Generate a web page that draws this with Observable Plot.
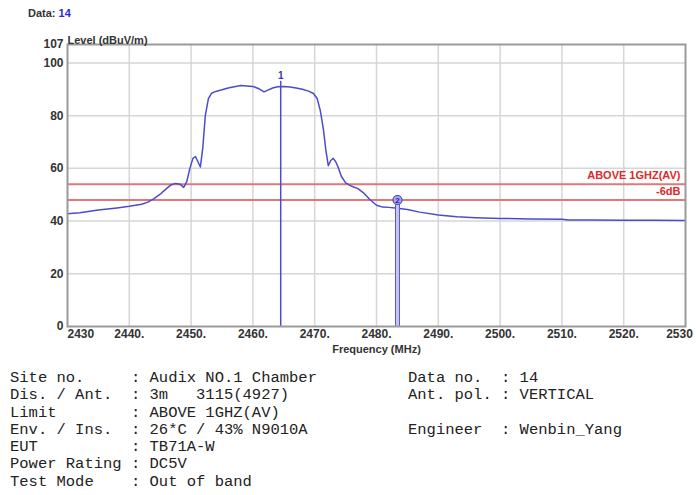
<!DOCTYPE html>
<html><head><meta charset="utf-8">
<script src="https://cdn.jsdelivr.net/npm/d3@7"></script>
<script src="https://cdn.jsdelivr.net/npm/@observablehq/plot@0.6"></script>
<style>
body{margin:0;background:#fff;width:696px;height:495px;overflow:hidden;position:relative;font-family:"Liberation Sans",Arial,sans-serif}
#hdr{position:absolute;left:28px;top:7px;font-size:11px;font-weight:bold;color:#333}
#hdr span{color:#2a2ad0}
#chart{position:absolute;left:0;top:0}
.info{position:absolute;top:370px;font-family:"Liberation Mono",monospace;font-size:15.5px;line-height:17.3px;white-space:pre;color:#222;margin:0}
#left{left:10px}
#right{left:408px}
</style></head><body>
<div id="chart"></div>
<div id="hdr">Data: <span>14</span></div>
<pre class="info" id="left"></pre>
<pre class="info" id="right"></pre>
<script>
// Trace data (frequency MHz, level dBuV/m)
const freq = [2430, 2432, 2435, 2438, 2440, 2442, 2443, 2444, 2445, 2446, 2446.8, 2447.5, 2448.2, 2448.8, 2449.3, 2449.8, 2450.3, 2450.7, 2451.1, 2451.5, 2451.9, 2452.3, 2452.8, 2453.3, 2454, 2455, 2456, 2457, 2458, 2459, 2460, 2461, 2461.8, 2462.5, 2463.2, 2464, 2465, 2466, 2467, 2468, 2469, 2469.8, 2470.4, 2470.9, 2471.4, 2471.8, 2472.2, 2472.6, 2473, 2473.4, 2473.8, 2474.3, 2475, 2476, 2477, 2478, 2479, 2480, 2481, 2482, 2483, 2484, 2485, 2487, 2490, 2493, 2496, 2500, 2505, 2510, 2511, 2515, 2520, 2525, 2530];
const level = [42.8, 43.2, 44.2, 45.0, 45.6, 46.4, 47.2, 48.5, 50.2, 52.3, 53.8, 54.3, 54.0, 52.8, 55.0, 60.0, 63.8, 64.5, 62.5, 60.5, 68.0, 80.0, 86.5, 88.5, 89.2, 89.8, 90.5, 91.0, 91.4, 91.3, 91.1, 90.2, 89.0, 89.8, 90.5, 91.0, 91.1, 90.9, 90.5, 90.0, 89.3, 88.4, 86.5, 82.0, 75.0, 67.0, 61.0, 63.0, 63.8, 62.5, 60.4, 57.0, 54.5, 53.2, 52.3, 50.5, 48.0, 46.0, 45.3, 45.2, 45.0, 44.7, 44.4, 43.4, 42.3, 41.6, 41.3, 41.0, 40.8, 40.7, 40.4, 40.4, 40.3, 40.3, 40.2];

// Limit lines
const limitLevels = [54, 48];
const limitLabels = ["ABOVE 1GHZ(AV)", "-6dB"];

// Markers
const markerNames = ["1", "2"];
const markerFreq = [2464.5, 2483.4];
const markerLevel = [93, 48];

// Axis ticks
const xTicks = [2430, 2440, 2450, 2460, 2470, 2480, 2490, 2500, 2510, 2520, 2530];
const xTickLabels = ["2430", "2440.", "2450.", "2460.", "2470.", "2480.", "2490.", "2500.", "2510.", "2520.", "2530"];
const yTicks = [0, 20, 40, 60, 80, 100, 107];
const yGrid = [20, 40, 60, 80, 100];
const xGrid = [2440, 2450, 2460, 2470, 2480, 2490, 2500, 2510, 2520];

// Info text
const infoLeftLabels = ["Site no.", "Dis. / Ant.", "Limit", "Env. / Ins.", "EUT", "Power Rating", "Test Mode"];
const infoLeftValues = ["Audix NO.1 Chamber", "3m   3115(4927)", "ABOVE 1GHZ(AV)", "26*C / 43% N9010A", "TB71A-W", "DC5V", "Out of band"];
const infoRightLabels = ["Data no.", "Ant. pol.", "", "Engineer"];
const infoRightValues = ["14", "VERTICAL", "", "Wenbin_Yang"];

const trace = freq.map((f, i) => ({f, v: level[i]}));
const limits = limitLevels.map((v, i) => ({v, label: limitLabels[i]}));
const markers = markerNames.map((n, i) => ({n, f: markerFreq[i], v: markerLevel[i]}));
const xt = xTicks.map((f, i) => ({f, label: xTickLabels[i], i}));
const last = xTicks.length - 1;

const font = "Liberation Sans, Arial, sans-serif";
const blue = "#4b4bd0";

const chart = Plot.plot({
  width: 696, height: 362,
  marginLeft: 67, marginRight: 11, marginTop: 44, marginBottom: 36,
  x: {domain: [2430, 2530]},
  y: {domain: [0, 107]},
  style: {fontFamily: font, fontSize: "12px", background: "#fff", overflow: "visible"},
  marks: [
    Plot.gridX(xGrid, {stroke: "#d6d6d6", strokeOpacity: 1, strokeWidth: 1.5}),
    Plot.gridY(yGrid, {stroke: "#d6d6d6", strokeOpacity: 1, strokeWidth: 1.5}),
    Plot.ruleY(limits, {y: "v", stroke: "#e07878", strokeWidth: 2}),
    Plot.text(limits, {y: "v", text: "label", frameAnchor: "right", textAnchor: "end", dx: -5, dy: -8.5, fill: "#e02828", fontWeight: "bold", fontSize: 11}),
    Plot.line(trace, {x: "f", y: "v", stroke: blue, strokeWidth: 1.5}),
    Plot.ruleX(markers.filter(d => d.n === "1"), {x: "f", y1: 0, y2: "v", stroke: blue, strokeWidth: 1.5}),
    Plot.text(markers.filter(d => d.n === "1"), {x: "f", y: "v", text: "n", dy: -6, fill: "#3a3ab8", fontSize: 10, fontWeight: "bold"}),
    Plot.ruleX(markers.filter(d => d.n === "2"), {x: "f", y1: 0, y2: "v", stroke: "#c4c4f2", strokeWidth: 4}),
    Plot.ruleX(markers.filter(d => d.n === "2"), {x: "f", y1: 0, y2: "v", dx: -2, stroke: "#5a5ad0", strokeWidth: 1}),
    Plot.ruleX(markers.filter(d => d.n === "2"), {x: "f", y1: 0, y2: "v", dx: 2, stroke: "#5a5ad0", strokeWidth: 1}),
    Plot.dot(markers.filter(d => d.n === "2"), {x: "f", y: "v", r: 4.5, fill: "#a8a8ea", stroke: "#4444c0", strokeWidth: 1.2}),
    Plot.text(markers.filter(d => d.n === "2"), {x: "f", y: "v", text: "n", fill: "#1e1e9a", fontSize: 8, fontWeight: "bold"}),
    Plot.frame({stroke: "#9a9a9a", strokeWidth: 2}),
    Plot.axisY(yTicks, {tickSize: 0, tickPadding: 4, fontWeight: "bold", fill: "#333", fontSize: 12, label: null}),
    Plot.axisX({ticks: [], label: null}),
    Plot.text(xt.filter(d => d.i === 0), {x: "f", text: "label", frameAnchor: "bottom", dy: 11, textAnchor: "start", fill: "#333", fontWeight: "bold", fontSize: 12}),
    Plot.text(xt.filter(d => d.i > 0 && d.i < last), {x: "f", text: "label", frameAnchor: "bottom", dy: 11, fill: "#333", fontWeight: "bold", fontSize: 12}),
    Plot.text(xt.filter(d => d.i === last), {x: "f", text: "label", frameAnchor: "bottom", dy: 11, dx: -6, fill: "#333", fontWeight: "bold", fontSize: 12}),
    Plot.text(["Level (dBuV/m)"], {frameAnchor: "top-left", textAnchor: "start", dy: -8, fill: "#333", fontWeight: "bold", fontSize: 11}),
    Plot.text(["Frequency (MHz)"], {frameAnchor: "bottom", dy: 26, fill: "#333", fontWeight: "bold", fontSize: 11})
  ]
});
document.getElementById("chart").appendChild(chart);

const pad = (s, n) => s + " ".repeat(Math.max(0, n - s.length));
document.getElementById("left").textContent = infoLeftLabels.map((l, i) => pad(l, 13) + ": " + infoLeftValues[i]).join("\n");
document.getElementById("right").textContent = infoRightLabels.map((l, i) => l ? pad(l, 10) + ": " + infoRightValues[i] : "").join("\n");
</script>
</body></html>
